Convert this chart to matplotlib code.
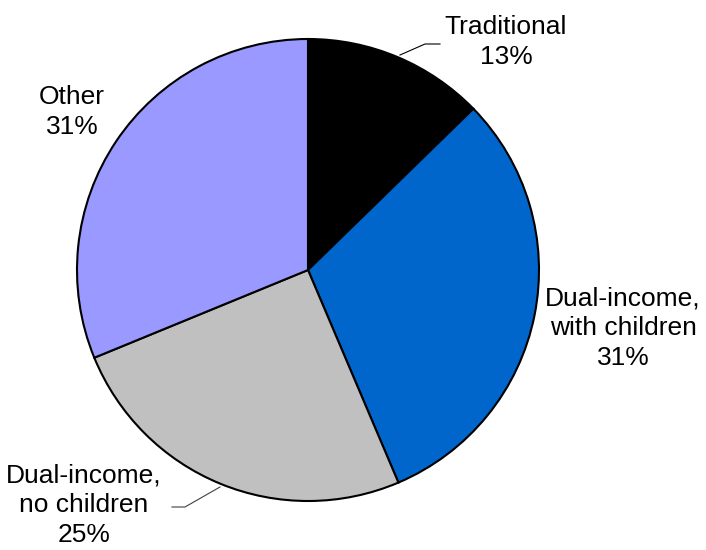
import matplotlib.pyplot as plt

plt.rcParams['font.family'] = ['Liberation Sans', 'DejaVu Sans']

labels = ["Traditional", "Dual-income,\nwith children", "Dual-income,\nno children", "Other"]
shares = [12.7, 30.9, 25.2, 31.2]
colors = ["#000000", "#0066CC", "#C0C0C0", "#9999FF"]

H = 550
fig = plt.figure(figsize=(7.06, 5.5), dpi=100)
ax = fig.add_axes([0, 0, 1, 1])

ax.pie(shares, colors=colors, startangle=90, counterclock=False,
       center=(308, H - 270), radius=231, frame=True,
       wedgeprops=dict(edgecolor='black', linewidth=1.5))
ax.set_xlim(0, 706)
ax.set_ylim(0, H)
ax.set_aspect('equal')
ax.axis('off')

# label positions in pixels (x, y from top)
label_pos = [(506, 42), (623, 328), (84, 505), (72, 112)]
for lab, s, (x, y) in zip(labels, shares, label_pos):
    ax.text(x, H - y, "%s\n%d%%" % (lab, round(s)), ha='center', va='center',
            fontsize=19, linespacing=1.3)

# leader lines
ax.plot([400, 425, 440], [H - 55, H - 44, H - 44], color='black', lw=0.8)
ax.plot([220, 185, 172], [H - 487, H - 507, H - 507], color='#404040', lw=0.8)

fig.savefig("out.png", dpi=100)
